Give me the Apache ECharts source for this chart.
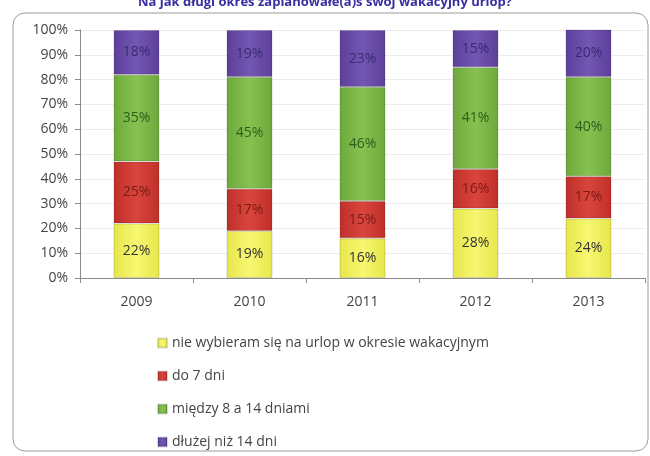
<!DOCTYPE html>
<html>
<head>
<meta charset="utf-8">
<script src="https://cdn.jsdelivr.net/npm/echarts@6/dist/echarts.min.js"></script>
<style>
  html, body { margin: 0; padding: 0; background: #fff; }
  #chart { width: 650px; height: 456px; }
</style>
</head>
<body>
<div id="chart"></div>
<script>
// lata i odpowiedzi (w %)
const years = ['2009', '2010', '2011', '2012', '2013'];
const names = [
  'nie wybieram się na urlop w okresie wakacyjnym',
  'do 7 dni',
  'między 8 a 14 dniami',
  'dłużej niż 14 dni'
];
const noTrip = [22, 19, 16, 28, 24];
const upTo7 = [25, 17, 15, 16, 17];
const from8to14 = [35, 45, 46, 41, 40];
const over14 = [18, 19, 23, 15, 20];
const yTicks = [0, 10, 20, 30, 40, 50, 60, 70, 80, 90, 100];

const font = "'Open Sans', 'DejaVu Sans', sans-serif";

// kolory jak w Excelu, lekki gradient dla efektu wypukłości
function bevel(dark, light) {
  return new echarts.graphic.LinearGradient(0, 0, 1, 0, [
    { offset: 0, color: dark },
    { offset: 0.5, color: light },
    { offset: 1, color: dark }
  ]);
}
const colors = [
  ['#e6e64a', '#f7f772', '#333333'],
  ['#bf2f2a', '#d9453c', '#7a1a16'],
  ['#6ea83c', '#86c250', '#2f5c1c'],
  ['#5d3f9a', '#7257b3', '#3a2a72']
];
const values = [noTrip, upTo7, from8to14, over14];

const chart = echarts.init(document.getElementById('chart'));
const option = {
  animation: false,
  title: {
    text: 'Na jak długi okres zaplanowałe(a)ś swój wakacyjny urlop?',
    left: 'center',
    top: -9,
    textStyle: { fontFamily: font, fontSize: 13, fontWeight: 'bold', color: '#3b2fa0' }
  },
  graphic: [{
    type: 'rect',
    shape: { x: 13, y: 13, width: 635, height: 438, r: 12 },
    style: { fill: 'none', stroke: '#9a9a9a', lineWidth: 1 },
    z: -1
  }],
  legend: {
    orient: 'vertical',
    left: 152,
    top: 331,
    itemWidth: 9,
    itemHeight: 9,
    itemGap: 19,
    icon: 'rect',
    textStyle: { fontFamily: font, fontSize: 14, color: '#444' },
    data: names
  },
  grid: { left: 80, right: 5, top: 30, bottom: 178 },
  xAxis: {
    type: 'category',
    data: years,
    axisLine: { lineStyle: { color: '#8a8a8a' } },
    axisTick: { show: true, length: 5, lineStyle: { color: '#8a8a8a' } },
    axisLabel: { margin: 17, fontFamily: font, fontSize: 14, color: '#444' }
  },
  yAxis: {
    type: 'value',
    min: yTicks[0],
    max: yTicks[yTicks.length - 1],
    interval: 10,
    axisLine: { show: true, lineStyle: { color: '#8a8a8a' } },
    axisTick: { show: true, length: 5, lineStyle: { color: '#8a8a8a' } },
    axisLabel: { margin: 12, fontFamily: font, fontSize: 14, color: '#444', formatter: '{value}%' },
    splitLine: { show: true, lineStyle: { color: '#ececec' } }
  },
  series: names.map((n, i) => ({
    name: n,
    type: 'bar',
    stack: 'all',
    barWidth: 46,
    data: values[i],
    itemStyle: {
      color: bevel(colors[i][0], colors[i][1]),
      borderColor: 'rgba(0,0,0,0.15)',
      borderWidth: 1
    },
    label: {
      show: true,
      position: 'inside',
      formatter: '{c}%',
      fontFamily: font,
      fontSize: 14,
      color: colors[i][2]
    }
  }))
};
chart.setOption(option);
</script>
</body>
</html>
